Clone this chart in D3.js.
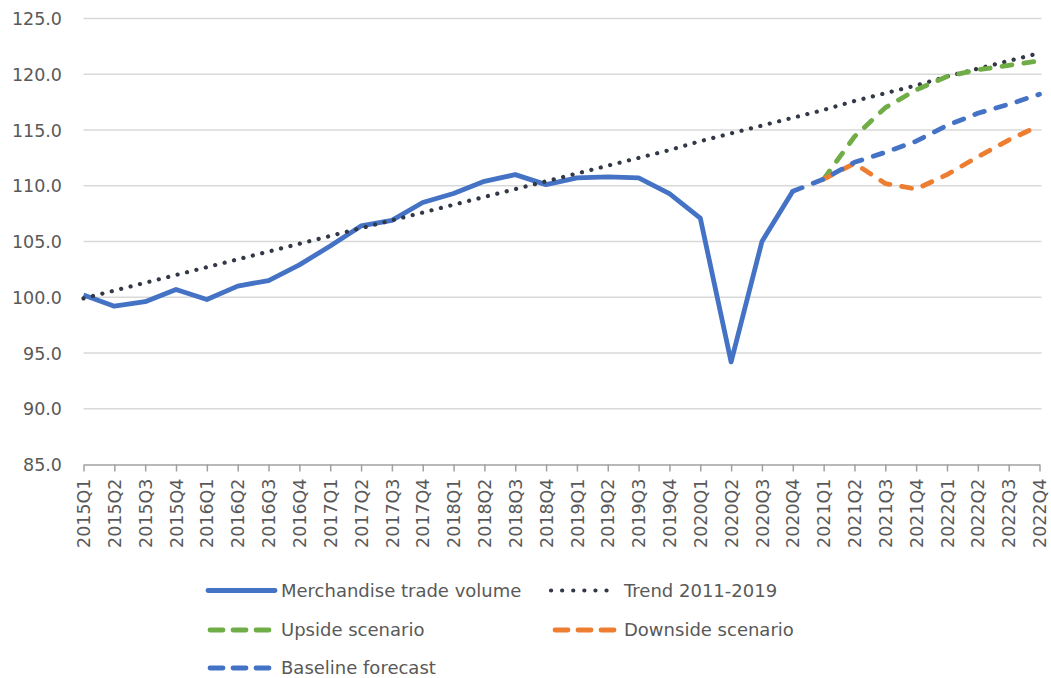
<!DOCTYPE html>
<html>
<head>
<meta charset="utf-8">
<script src="https://cdn.jsdelivr.net/npm/d3@7"></script>
<style>
  html, body { margin: 0; padding: 0; background: #ffffff; }
  svg { display: block; }
  text { font-family: "DejaVu Sans", sans-serif; fill: #595959; }
</style>
</head>
<body>
<svg id="chart" width="1051" height="678"></svg>
<script>
const quarters = [
  "2015Q1","2015Q2","2015Q3","2015Q4","2016Q1","2016Q2","2016Q3","2016Q4",
  "2017Q1","2017Q2","2017Q3","2017Q4","2018Q1","2018Q2","2018Q3","2018Q4",
  "2019Q1","2019Q2","2019Q3","2019Q4","2020Q1","2020Q2","2020Q3","2020Q4",
  "2021Q1","2021Q2","2021Q3","2021Q4","2022Q1","2022Q2","2022Q3","2022Q4"
];
const merchandise = [
  100.2, 99.2, 99.6, 100.7, 99.8, 101.0, 101.5, 102.9,
  104.6, 106.4, 106.9, 108.5, 109.3, 110.4, 111.0, 110.1,
  110.7, 110.8, 110.7, 109.3, 107.1, 94.2, 105.0, 109.5,
  null, null, null, null, null, null, null, null
];
const trend = [
  99.9, 100.6, 101.3, 102.0, 102.7, 103.4, 104.1, 104.8,
  105.5, 106.2, 106.9, 107.6, 108.3, 109.0, 109.7, 110.4,
  111.1, 111.8, 112.5, 113.2, 114.0, 114.7, 115.4, 116.1,
  116.8, 117.6, 118.3, 119.0, 119.8, 120.5, 121.2, 121.9
];
const upside = [
  null, null, null, null, null, null, null, null,
  null, null, null, null, null, null, null, null,
  null, null, null, null, null, null, null, null,
  110.6, 114.4, 117.0, 118.6, 119.8, 120.4, 120.8, 121.2
];
const downside = [
  null, null, null, null, null, null, null, null,
  null, null, null, null, null, null, null, null,
  null, null, null, null, null, null, null, null,
  110.6, 112.0, 110.2, 109.7, 111.0, 112.6, 114.1, 115.4
];
const baseline = [
  null, null, null, null, null, null, null, null,
  null, null, null, null, null, null, null, null,
  null, null, null, null, null, null, null, 109.5,
  110.6, 112.1, 113.0, 114.0, 115.4, 116.5, 117.3, 118.2
];
const yTicks = [85, 90, 95, 100, 105, 110, 115, 120, 125];
const seriesNames = ["Merchandise trade volume", "Trend 2011-2019", "Upside scenario", "Downside scenario", "Baseline forecast"];

const svg = d3.select("#chart");
svg.append("rect").attr("width", 1051).attr("height", 678).attr("fill", "#ffffff");

const x = d3.scalePoint().domain(quarters).range([83.5, 1039.5]);
const y = d3.scaleLinear().domain([85, 125]).range([464.5, 18.5]);

// gridlines
svg.append("g").selectAll("line").data(yTicks.filter(d => d !== 85)).join("line")
  .attr("x1", 83.5).attr("x2", 1041.5)
  .attr("y1", d => y(d)).attr("y2", d => y(d))
  .attr("stroke", "#d9d9d9").attr("stroke-width", 1.5);

// y axis labels
const yAxis = d3.axisLeft(y).tickValues(yTicks).tickFormat(d3.format(".1f")).tickSize(0).tickPadding(0);
const gy = svg.append("g").attr("transform", "translate(62,0)").call(yAxis);
gy.select(".domain").remove();
gy.selectAll("text").attr("font-size", "17.5px").attr("font-family", "DejaVu Sans, sans-serif")
  .attr("fill", "#595959").attr("dy", "0.35em");

// x axis
const xAxis = d3.axisBottom(x).tickSizeInner(7).tickSizeOuter(0).tickPadding(0);
const gx = svg.append("g").attr("transform", `translate(0,${y(85)})`).call(xAxis);
gx.select(".domain").attr("stroke", "#a0a0a0").attr("stroke-width", 1.5);
gx.selectAll(".tick line").attr("stroke", "#a0a0a0").attr("stroke-width", 1.5);
gx.selectAll("text")
  .attr("font-size", "17.5px").attr("font-family", "DejaVu Sans, sans-serif").attr("fill", "#595959")
  .attr("text-anchor", "end")
  .attr("transform", "translate(0,14) rotate(-90)")
  .attr("x", 0).attr("y", 0).attr("dy", "0.35em");

const line = d3.line()
  .defined(d => d != null)
  .x((d, i) => x(quarters[i]))
  .y(d => y(d));

const g = svg.append("g");
g.append("path").datum(merchandise).attr("d", line)
  .attr("fill", "none").attr("stroke", "#4472C4").attr("stroke-width", 4.8)
  .attr("stroke-linejoin", "round");
g.append("path").datum(trend).attr("d", line)
  .attr("fill", "none").attr("stroke", "#323845").attr("stroke-width", 4.2)
  .attr("stroke-linecap", "round").attr("stroke-dasharray", "0.1,9.6");
g.append("path").datum(upside).attr("d", line)
  .attr("fill", "none").attr("stroke", "#70AD47").attr("stroke-width", 4.8)
  .attr("stroke-linecap", "round").attr("stroke-linejoin", "round").attr("stroke-dasharray", "10,12");
g.append("path").datum(downside).attr("d", line)
  .attr("fill", "none").attr("stroke", "#ED7D31").attr("stroke-width", 4.8)
  .attr("stroke-linecap", "round").attr("stroke-linejoin", "round").attr("stroke-dasharray", "10,12");
g.append("path").datum(baseline).attr("d", line)
  .attr("fill", "none").attr("stroke", "#4472C4").attr("stroke-width", 4.8)
  .attr("stroke-linecap", "round").attr("stroke-linejoin", "round").attr("stroke-dasharray", "10,12");

// legend
const legendItems = [
  { name: seriesNames[0], color: "#4472C4", dash: null, w: 4.8, lx: 208, len: 67, ly: 590.5, tx: 281 },
  { name: seriesNames[1], color: "#323845", dash: "0.1,11", w: 4.2, lx: 551, len: 66.2, ly: 590.5, tx: 624 },
  { name: seriesNames[2], color: "#70AD47", dash: "13,10", w: 4.8, lx: 210, len: 65, ly: 630, tx: 281 },
  { name: seriesNames[3], color: "#ED7D31", dash: "13,10", w: 4.8, lx: 555, len: 65, ly: 630, tx: 624 },
  { name: seriesNames[4], color: "#4472C4", dash: "13,10", w: 4.8, lx: 210, len: 65, ly: 668, tx: 281 }
];
const lg = svg.append("g").selectAll("g").data(legendItems).join("g");
lg.append("line")
  .attr("x1", d => d.lx).attr("x2", d => d.lx + d.len)
  .attr("y1", d => d.ly).attr("y2", d => d.ly)
  .attr("stroke", d => d.color).attr("stroke-width", d => d.w)
  .attr("stroke-linecap", "round")
  .attr("stroke-dasharray", d => d.dash);
lg.append("text")
  .attr("x", d => d.tx)
  .attr("y", d => d.ly).attr("dy", "0.35em")
  .attr("font-size", "18px")
  .text(d => d.name);
</script>
</body>
</html>
